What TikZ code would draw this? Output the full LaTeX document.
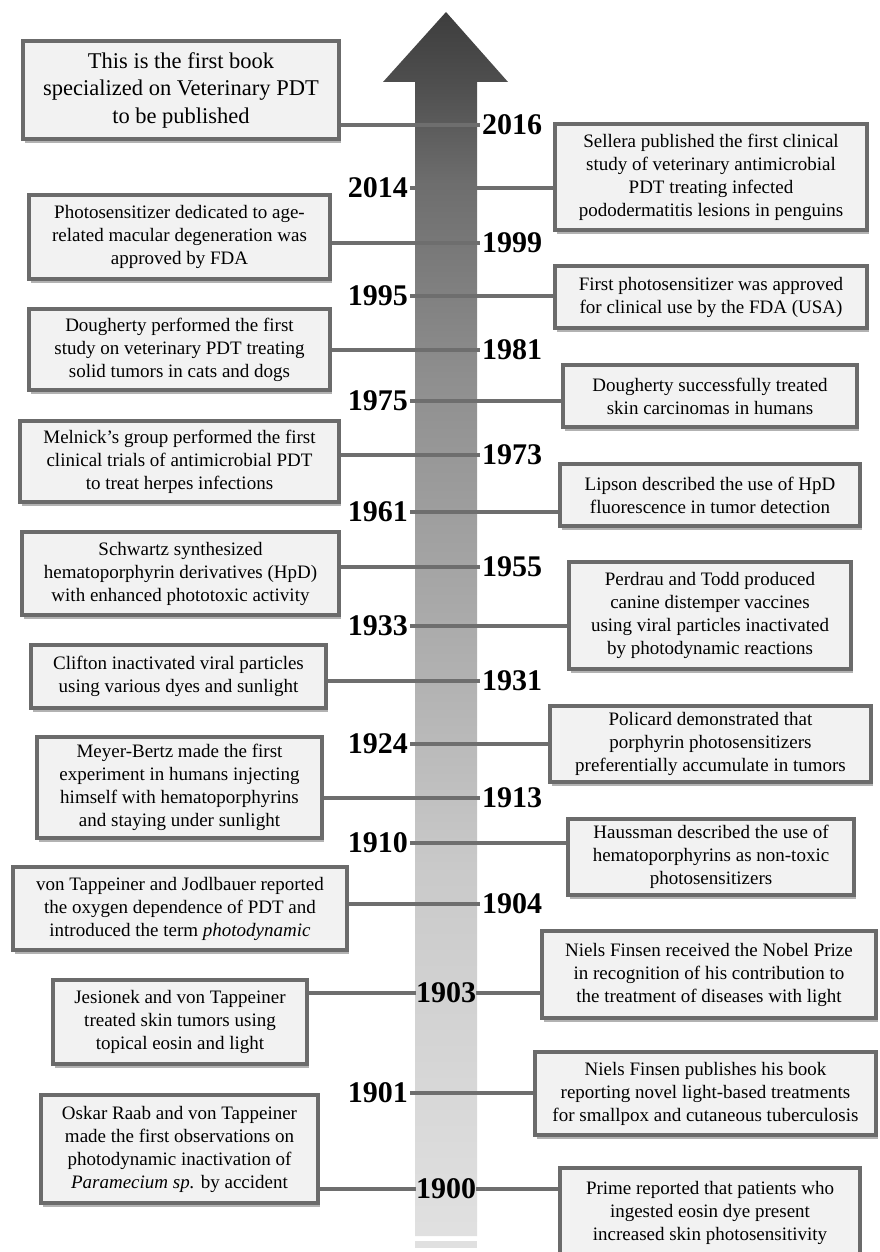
\documentclass[tikz,border=0pt]{standalone}
\usepackage{fontspec}
\setmainfont{Liberation Serif}
\usetikzlibrary{shadows}
\definecolor{boxfill}{HTML}{F2F2F2}
\definecolor{boxline}{HTML}{6B6B6B}
\definecolor{connc}{HTML}{6E6E6E}
\definecolor{bandc}{HTML}{E0E0E0}
\pgfdeclareverticalshading{arrowshade}{100bp}{rgb(0bp)=(0.88,0.88,0.88); rgb(25bp)=(0.88,0.88,0.88); rgb(40bp)=(0.79,0.79,0.79); rgb(50bp)=(0.67,0.67,0.67); rgb(60bp)=(0.56,0.56,0.56); rgb(68bp)=(0.43,0.43,0.43); rgb(72bp)=(0.31,0.31,0.31); rgb(75bp)=(0.24,0.24,0.24); rgb(100bp)=(0.24,0.24,0.24)}
\begin{document}
\begin{tikzpicture}[x=1pt,y=-1pt,
  evbox/.style={draw=boxline, line width=4pt, fill=boxfill, align=center, inner sep=2pt,
    font=\fontsize{19}{23}\selectfont,
    drop shadow={shadow xshift=2pt, shadow yshift=-4pt, opacity=0.3, fill=black}},
  conn/.style={draw=connc, line width=4pt},
  yearl/.style={font=\fontsize{30}{32}\selectfont\bfseries, inner sep=2pt},
]
\clip (0,0) rectangle (880,1252);
\fill[white] (0,0) rectangle (880,1252);
% timeline arrow
\shade[shading=arrowshade] (415,1236) -- (415,82) -- (383,82) -- (446,12) -- (508,82) -- (477,82) -- (477,1236) -- cycle;
\fill[bandc] (415,1241) rectangle (477,1248);

% year labels
\node[yearl, anchor=west] (y2016) at (480,125) {2016};
\node[yearl, anchor=east] (y2014) at (410,188) {2014};
\node[yearl, anchor=west] (y1999) at (480,243) {1999};
\node[yearl, anchor=east] (y1995) at (410,296) {1995};
\node[yearl, anchor=west] (y1981) at (480,350) {1981};
\node[yearl, anchor=east] (y1975) at (410,401) {1975};
\node[yearl, anchor=west] (y1973) at (480,455) {1973};
\node[yearl, anchor=east] (y1961) at (410,512) {1961};
\node[yearl, anchor=west] (y1955) at (480,567) {1955};
\node[yearl, anchor=east] (y1933) at (410,626) {1933};
\node[yearl, anchor=west] (y1931) at (480,681) {1931};
\node[yearl, anchor=east] (y1924) at (410,744) {1924};
\node[yearl, anchor=west] (y1913) at (480,798) {1913};
\node[yearl, anchor=east] (y1910) at (410,843) {1910};
\node[yearl, anchor=west] (y1904) at (480,904) {1904};
\node[yearl, inner sep=0pt] (y1903) at (446,993) {1903};
\node[yearl, anchor=east] (y1901) at (410,1093) {1901};
\node[yearl, inner sep=0pt] (y1900) at (446,1189) {1900};

% event boxes
\path
 node[evbox, minimum width=316, minimum height=98, font=\fontsize{22.5}{27.5}\selectfont] (book) at (181,90)
   {This is the first book\\specialized on Veterinary PDT\\to be published}
 node[evbox, minimum width=312, minimum height=106] (sellera) at (711,177)
   {Sellera published the first clinical\\study of veterinary antimicrobial\\PDT treating infected\\pododermatitis lesions in penguins}
 node[evbox, minimum width=301, minimum height=84] (photo) at (179.5,237)
   {Photosensitizer dedicated to age-\\related macular degeneration was\\approved by FDA}
 node[evbox, minimum width=312, minimum height=62] (firstps) at (711,297)
   {First photosensitizer was approved\\for clinical use by the FDA (USA)}
 node[evbox, minimum width=301, minimum height=81] (dougha) at (179.5,349.5)
   {Dougherty performed the first\\study on veterinary PDT treating\\solid tumors in cats and dogs}
 node[evbox, minimum width=294, minimum height=62] (doughb) at (710,396)
   {Dougherty successfully treated\\skin carcinomas in humans}
 node[evbox, minimum width=319, minimum height=81] (melnick) at (179.5,461.5)
   {Melnick’s group performed the first\\clinical trials of antimicrobial PDT\\to treat herpes infections}
 node[evbox, minimum width=300, minimum height=62] (lipson) at (710,495)
   {Lipson described the use of HpD\\fluorescence in tumor detection}
 node[evbox, minimum width=317, minimum height=83] (schwartz) at (180.5,573.5)
   {Schwartz synthesized\\hematoporphyrin derivatives (HpD)\\with enhanced phototoxic activity}
 node[evbox, minimum width=282, minimum height=107] (perdrau) at (710,615.5)
   {Perdrau and Todd produced\\canine distemper vaccines\\using viral particles inactivated\\by photodynamic reactions}
 node[evbox, minimum width=295, minimum height=63] (clifton) at (178.5,676.5)
   {Clifton inactivated viral particles\\using various dyes and sunlight}
 node[evbox, minimum width=321, minimum height=76] (policard) at (710.5,744)
   {Policard demonstrated that\\porphyrin photosensitizers\\preferentially accumulate in tumors}
 node[evbox, minimum width=285, minimum height=101] (meyer) at (179.5,787.5)
   {Meyer-Bertz made the first\\experiment in humans injecting\\himself with hematoporphyrins\\and staying under sunlight}
 node[evbox, minimum width=286, minimum height=76] (haussman) at (711,857)
   {Haussman described the use of\\hematoporphyrins as non-toxic\\photosensitizers}
 node[evbox, minimum width=334, minimum height=83] (vontj) at (180,908.5)
   {von Tappeiner and Jodlbauer reported\\the oxygen dependence of PDT and\\introduced the term \textit{photodynamic}}
 node[evbox, minimum width=334, minimum height=87] (nielsa) at (709,974.5)
   {Niels Finsen received the Nobel Prize\\in recognition of his contribution to\\the treatment of diseases with light}
 node[evbox, minimum width=254, minimum height=84] (jesionek) at (180,1022)
   {Jesionek and von Tappeiner\\treated skin tumors using\\topical eosin and light}
 node[evbox, minimum width=341, minimum height=83] (nielsb) at (705.5,1093.5)
   {Niels Finsen publishes his book\\reporting novel light-based treatments\\for smallpox and cutaneous tuberculosis}
 node[evbox, minimum width=277, minimum height=108] (oskar) at (179.5,1149)
   {Oskar Raab and von Tappeiner\\made the first observations on\\photodynamic inactivation of\\\textit{Paramecium sp.} by accident}
 node[evbox, minimum width=300, minimum height=90] (prime) at (710,1213)
   {Prime reported that patients who\\ingested eosin dye present\\increased skin photosensitivity};

% connectors: left boxes to right-hand years
\draw[conn] (book.east |- y2016.west) -- (y2016.west);
\draw[conn] (photo.east |- y1999.west) -- (y1999.west);
\draw[conn] (dougha.east |- y1981.west) -- (y1981.west);
\draw[conn] (melnick.east |- y1973.west) -- (y1973.west);
\draw[conn] (schwartz.east |- y1955.west) -- (y1955.west);
\draw[conn] (clifton.east |- y1931.west) -- (y1931.west);
\draw[conn] (meyer.east |- y1913.west) -- (y1913.west);
\draw[conn] (vontj.east |- y1904.west) -- (y1904.west);
% connectors: left-hand years to right boxes
\draw[conn] (y2014.east) -- (sellera.west |- y2014.east);
\draw[conn] (y1995.east) -- (firstps.west |- y1995.east);
\draw[conn] (y1975.east) -- (doughb.west |- y1975.east);
\draw[conn] (y1961.east) -- (lipson.west |- y1961.east);
\draw[conn] (y1933.east) -- (perdrau.west |- y1933.east);
\draw[conn] (y1924.east) -- (policard.west |- y1924.east);
\draw[conn] (y1910.east) -- (haussman.west |- y1910.east);
\draw[conn] (y1901.east) -- (nielsb.west |- y1901.east);
% centred years
\draw[conn] (jesionek.east |- y1903.west) -- (y1903.west);
\draw[conn] (y1903.east) -- (nielsa.west |- y1903.east);
\draw[conn] (oskar.east |- y1900.west) -- (y1900.west);
\draw[conn] (y1900.east) -- (prime.west |- y1900.east);
\end{tikzpicture}
\end{document}
